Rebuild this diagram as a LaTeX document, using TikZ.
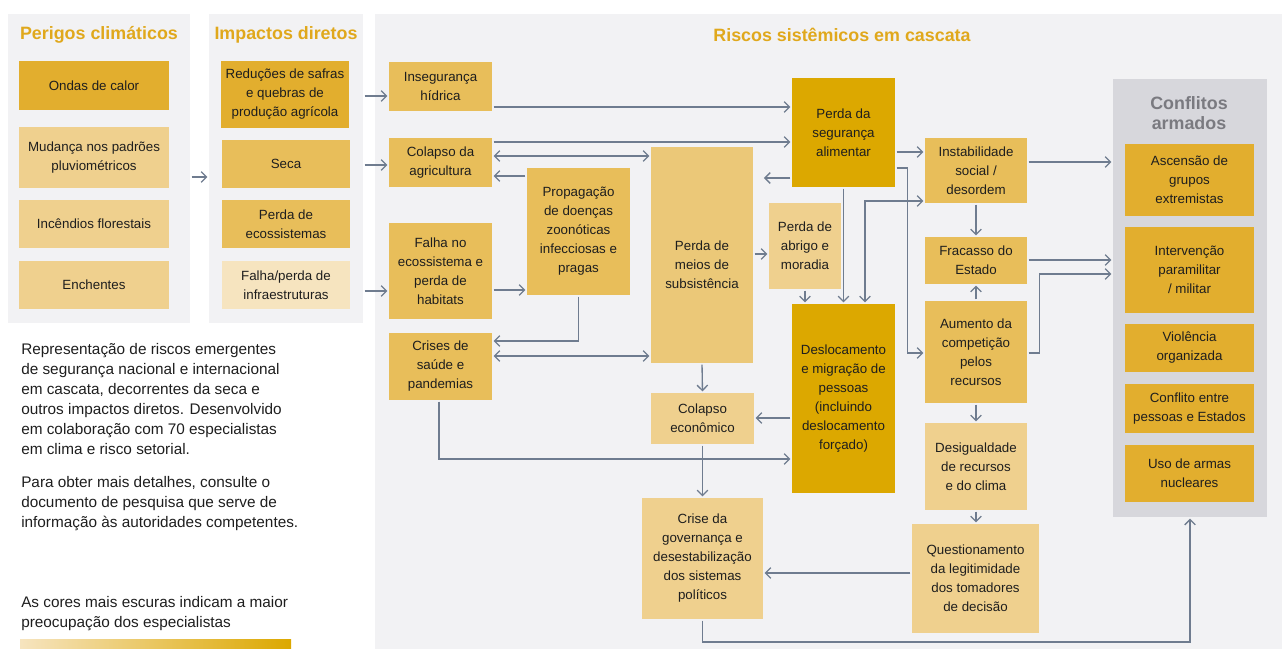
\documentclass[tikz,border=0pt]{standalone}
\usepackage{fontspec}
\setmainfont{Liberation Sans}
\usetikzlibrary{arrows.meta, calc, positioning}

\definecolor{riskdark}{HTML}{DCA800}
\definecolor{riskhigh}{HTML}{E2AE2E}
\definecolor{riskmid}{HTML}{E8BE5A}
\definecolor{riskmeios}{HTML}{EBC878}
\definecolor{risklow}{HTML}{EFD08E}
\definecolor{riskmin}{HTML}{F6E4BF}
\definecolor{panelgray}{HTML}{F2F2F4}
\definecolor{conflgray}{HTML}{D7D7DC}
\definecolor{arrowgray}{HTML}{6F7C8F}
\definecolor{titlegold}{HTML}{E0A81C}
\definecolor{titlegray}{HTML}{7A7A80}
\definecolor{bodytext}{HTML}{1E1E1E}

\tikzset{
	riskbox/.style={
			rectangle,
			draw=none,
			align=center,
			inner sep=0pt,
			text=bodytext,
			font=\fontsize{10}{14.25}\selectfont
		},
	boxsize/.style 2 args={
			minimum width=#1*0.75pt,
			minimum height=#2*0.75pt
		},
	lvlfour/.style={riskbox, fill=riskdark},
	lvlthree/.style={riskbox, fill=riskhigh},
	lvltwo/.style={riskbox, fill=riskmid},
	lvlone/.style={riskbox, fill=risklow},
	lvlzero/.style={riskbox, fill=riskmin},
	panel/.style={
			rectangle,
			draw=none,
			fill=panelgray,
			inner sep=0pt
		},
	paneltitle/.style={
			text=titlegold,
			inner sep=0pt,
			font=\fontsize{13.4}{16}\selectfont\bfseries
		},
	legendtext/.style={
			align=left,
			inner sep=0pt,
			text=bodytext,
			font=\fontsize{11.5}{15}\selectfont
		},
	link/.style={
			draw=arrowgray,
			line width=1pt,
			-{Straight Barb[length=4pt,width=8pt]},
			shorten >=1pt,
			shorten <=1pt
		},
	dlink/.style={
			link,
			{Straight Barb[length=4pt,width=8pt]}-{Straight Barb[length=4pt,width=8pt]}
		}
}

\begin{document}
\begin{tikzpicture}[x=0.75pt, y=-0.75pt]
\useasboundingbox (0,0) rectangle (1282,649);

% panels
\node[panel, boxsize={182}{309}] (perigos) at (99,168.5) {};
\node[panel, boxsize={154}{309}] (impactos) at (286,168.5) {};
\node[panel, boxsize={907}{635}] (riscos) at (828.5,331.5) {};
\node[panel, fill=conflgray, boxsize={154}{438}] (conflbox) at (1190,298) {};

\node[paneltitle] (t1) at (99,35) {Perigos climáticos};
\node[paneltitle] (t2) at (286,35) {Impactos diretos};
\node[paneltitle] (t3) at (842,35) {Riscos sistêmicos em cascata};
\node[paneltitle, text=titlegray, align=center, font=\fontsize{13.4}{15}\selectfont\bfseries] (t4) at (1189,113) {Conflitos\\armados};

% perigos
\node[lvlthree, boxsize={150}{49}] (ondas) at (94,85.5) {Ondas de calor};
\node[lvlone, boxsize={150}{61}] (mudanca) at (94,157.5) {Mudança nos padrões\\pluviométricos};
\node[lvlone, boxsize={150}{48}] (incendios) at (94,224) {Incêndios florestais};
\node[lvlone, boxsize={150}{48}] (enchentes) at (94,285) {Enchentes};

% impactos
\node[lvlthree, boxsize={128}{67}] (reducoes) at (285,94.5) {Reduções de safras\\e quebras de\\produção agrícola};
\node[lvltwo, boxsize={128}{48}] (seca) at (286,164) {Seca};
\node[lvltwo, boxsize={128}{48}] (perdaeco) at (286,224) {Perda de\\ecossistemas};
\node[lvlzero, boxsize={128}{48}] (falhainfra) at (286,285) {Falha/perda de\\infraestruturas};

% riscos em cascata
\node[lvltwo, boxsize={103}{49}] (inseg) at (440.5,86.5) {Insegurança\\hídrica};
\node[lvltwo, boxsize={103}{49}] (colagri) at (440.5,162.5) {Colapso da\\agricultura};
\node[lvltwo, boxsize={103}{96}] (falhaeco) at (440.5,271) {Falha no\\ecossistema e\\perda de\\habitats};
\node[lvltwo, boxsize={103}{67}] (crises) at (440.5,366.5) {Crises de\\saúde e\\pandemias};
\node[lvltwo, boxsize={103}{127}] (propag) at (578.5,231.5) {Propagação\\de doenças\\zoonóticas\\infecciosas e\\pragas};
\node[riskbox, fill=riskmeios, boxsize={102}{216},
      label={[riskbox, yshift=-7pt]center:Perda de\\meios de\\subsistência}] (meios) at (702,255) {};
\node[lvlone, boxsize={103}{51}] (colecon) at (702.5,418.5) {Colapso\\econômico};
\node[lvlone, boxsize={121}{121}] (crisegov) at (702.5,558.5) {Crise da\\governança e\\desestabilização\\dos sistemas\\políticos};
\node[lvlfour, boxsize={103}{109}] (segal) at (843.5,132.5) {Perda da\\segurança\\alimentar};
\node[lvlone, boxsize={72}{86}] (abrigo) at (805,246) {Perda de\\abrigo e\\moradia};
\node[lvlfour, boxsize={103}{189}] (desloc) at (843.5,398.5) {Deslocamento\\e migração de\\pessoas\\(incluindo\\deslocamento\\forçado)};
\node[lvltwo, boxsize={102}{65}] (instab) at (976,170.5) {Instabilidade\\social /\\desordem};
\node[lvltwo, boxsize={102}{47}] (fracasso) at (976,260.5) {Fracasso do\\Estado};
\node[lvltwo, boxsize={102}{102}] (aumento) at (976,352) {Aumento da\\competição\\pelos\\recursos};
\node[lvlone, boxsize={102}{87}] (desig) at (976,466.5) {Desigualdade\\de recursos\\e do clima};
\node[lvlone, boxsize={127}{109}] (quest) at (975.5,578.5) {Questionamento\\da legitimidade\\dos tomadores\\de decisão};

% conflitos armados
\node[lvlthree, boxsize={129}{72}] (ascensao) at (1189.5,180) {Ascensão de\\grupos\\extremistas};
\node[lvlthree, boxsize={129}{86}] (interv) at (1189.5,270) {Intervenção\\paramilitar\\/ militar};
\node[lvlthree, boxsize={129}{48}] (violencia) at (1189.5,348) {Violência\\organizada};
\node[lvlthree, boxsize={129}{49}] (conflito) at (1189.5,408.5) {Conflito entre\\pessoas e Estados};
\node[lvlthree, boxsize={129}{57}] (uso) at (1189.5,473.5) {Uso de armas\\nucleares};

% legenda
\node[legendtext, anchor=north west] (desc) at (21,343) {Representação de riscos emergentes\\de segurança nacional e internacional\\em cascata, decorrentes da seca e\\outros impactos diretos. Desenvolvido\\em colaboração com 70 especialistas\\em clima e risco setorial.};
\node[legendtext, anchor=north west] (info) at (21,476) {Para obter mais detalhes, consulte o\\documento de pesquisa que serve de\\informação às autoridades competentes.};
\node[legendtext, anchor=north west] (note) at (21,596) {As cores mais escuras indicam a maior\\preocupação dos especialistas};
\shade[left color=riskmin, right color=riskdark] (20,639) rectangle (291,649);

% connectors
\draw[link] (perigos.east |- 0,177) -- (impactos.west |- 0,177);
\draw[link] (impactos.east |- 0,96) -- (inseg.west |- 0,96);
\draw[link] (impactos.east |- 0,165) -- (colagri.west |- 0,165);
\draw[link] (impactos.east |- 0,291) -- (falhaeco.west |- 0,291);

\draw[link] (inseg.east |- 0,107) -- (segal.west |- 0,107);
\draw[link] (colagri.east |- 0,142) -- (segal.west |- 0,142);
\draw[dlink] (colagri.east |- 0,156) -- (meios.west |- 0,156);
\draw[link] (propag.west |- 0,176) -- (colagri.east |- 0,176);
\draw[link] (falhaeco.east |- 0,290) -- (propag.west |- 0,290);
\draw[link] (propag.south) |- (crises.east |- 0,341);
\draw[dlink] (crises.east |- 0,356) -- (meios.west |- 0,356);
\draw[link, shorten >=8pt] (segal.west |- 0,178) -- (meios.east |- 0,178);
\draw[link] (meios.east |- 0,254) -- (abrigo.west |- 0,254);
\draw[link] (abrigo.south) -- (desloc.north -| abrigo.south);
\draw[link] (segal.south) -- (desloc.north -| segal.south);
\draw[dlink] (desloc.north -| 865,0) |- (instab.west |- 0,201);
\draw[link] (segal.east |- 0,152) -- (instab.west |- 0,152);
\draw[link] (segal.east |- 0,168) -- ++(12,0) |- (aumento.west |- 0,353);

\draw[link] (instab.south) -- (fracasso.north);
\draw[link] (aumento.north) -- (fracasso.south);
\draw[link] (aumento.south) -- (desig.north);
\draw[link] (desig.south) -- (quest.north -| desig.south);
\draw[link] (quest.west |- 0,573) -- (crisegov.east |- 0,573);
\draw[link] (desloc.west |- 0,418) -- (colecon.east |- 0,418);
\draw[link] (meios.south) -- (colecon.north);
\draw[link] (colecon.south) -- (crisegov.north);
\draw[link] (crises.south -| 439,0) |- (desloc.west |- 0,459);
\draw[link] (crisegov.south) -- (crisegov.south |- 0,642) -| (conflbox.south);

\draw[link] (instab.east |- 0,162) -- (conflbox.west |- 0,162);
\draw[link] (fracasso.east |- 0,260) -- (conflbox.west |- 0,260);
\draw[link] (aumento.east |- 0,353) -- ++(12,0) |- (conflbox.west |- 0,274);
\end{tikzpicture}
\end{document}
